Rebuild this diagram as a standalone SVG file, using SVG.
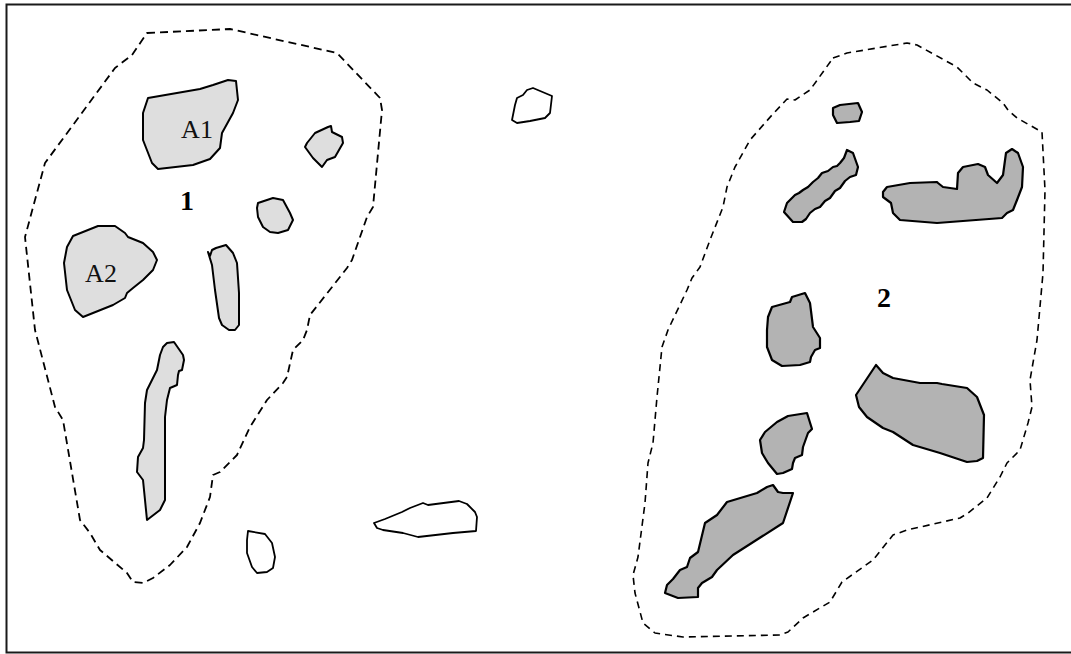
<svg xmlns="http://www.w3.org/2000/svg" width="1071" height="654" viewBox="0 0 1071 654">
<style>
.frame{fill:none;stroke:#1a1a1a;stroke-width:2}
.zone1{fill:none;stroke:#000;stroke-width:1.8;stroke-dasharray:8,5;stroke-linejoin:round}
.zone2{fill:none;stroke:#000;stroke-width:1.6;stroke-dasharray:7,5;stroke-linejoin:round}
.light{fill:#dedede;stroke:#000;stroke-width:2;stroke-linejoin:round}
.dark{fill:#b3b3b3;stroke:#000;stroke-width:2.2;stroke-linejoin:round}
.open{fill:#fff;stroke:#000;stroke-width:1.8;stroke-linejoin:round}
.lbl{font-family:"Liberation Serif","Times New Roman",serif;font-size:26px;fill:#111;text-anchor:middle}
.num{font-family:"Liberation Serif","Times New Roman",serif;font-size:28px;font-weight:bold;fill:#000;text-anchor:middle}
</style>
<rect x="0" y="0" width="1071" height="654" fill="#fff"/>
<rect class="frame" x="6.5" y="4.5" width="1070" height="648"/>
<g id="zone1">
<path class="zone1" d="M147,33 L230,29 L337,53 L380,98 L382,110 L373,207 L367,217 L352,260 L347,268 L310,315 L307,330 L303,340 L293,350 L287,377 L283,383 L267,400 L250,427 L237,455 L220,472 L213,475 L210,497 L200,523 L187,547 L170,565 L153,578 L143,583 L133,582 L127,573 L100,550 L90,533 L80,520 L63,420 L55,407 L35,330 L25,237 L45,163 L115,68 L132,55 Z"/>
<text class="num" x="187" y="210">1</text>
</g>
<g id="zone2">
<path class="zone2" d="M833,58 L847,53 L907,43 L917,45 L957,67 L973,83 L987,90 L1003,103 L1008,110 L1017,118 L1042,132 L1045,190 L1043,273 L1037,340 L1030,380 L1032,407 L1028,423 L1020,450 L1007,463 L1000,477 L987,498 L968,513 L960,518 L907,530 L893,535 L873,560 L842,582 L830,602 L803,618 L788,632 L780,635 L683,637 L655,633 L643,623 L635,593 L633,575 L638,557 L645,503 L648,463 L653,443 L657,397 L662,347 L668,330 L687,290 L692,278 L700,267 L710,240 L723,207 L727,187 L735,167 L750,140 L772,115 L787,99 L795,100 L810,90 L823,72 Z"/>
<text class="num" x="884" y="307">2</text>
</g>
<g id="A1">
<path class="light" d="M148,98 L200,89 L213,85 L228,80 L236,81 L238,100 L233,113 L222,133 L220,148 L210,159 L193,165 L158,169 L152,163 L143,140 L143,113 Z"/>
<text class="lbl" x="197" y="138">A1</text>
</g>
<g id="A2">
<path class="light" d="M73,236 L98,226 L115,226 L125,233 L128,237 L143,243 L153,252 L157,260 L153,270 L143,280 L133,288 L127,293 L125,298 L113,305 L83,317 L75,310 L67,290 L64,263 L67,247 Z"/>
<text class="lbl" x="101" y="282">A2</text>
</g>
<g id="s1">
<path class="light" d="M307,143 L315,133 L328,127 L331,126 L332,132 L342,137 L343,143 L335,157 L327,160 L322,167 L313,158 L305,147 Z"/>
</g>
<g id="s2">
<path class="light" d="M258,203 L267,200 L273,198 L283,200 L290,213 L293,220 L288,230 L278,233 L270,232 L263,227 L258,217 L257,208 Z"/>
</g>
<g id="s3">
<path class="light" d="M208,252 L210,256 L212,250 L216,248 L226,245 L233,253 L237,263 L239,293 L239,325 L235,330 L229,330 L222,325 L219,318 L215,290 L212,265 Z"/>
</g>
<g id="s4">
<path class="light" d="M167,343 L174,342 L183,355 L184,360 L182,370 L179,371 L178,375 L177,385 L170,388 L167,400 L165,417 L165,500 L160,510 L147,520 L145,500 L143,480 L137,472 L138,457 L143,448 L144,440 L145,403 L147,390 L157,370 L160,355 L163,347 Z"/>
</g>
<g id="w1">
<path class="open" d="M248,531 L265,534 L272,543 L275,557 L273,568 L267,572 L257,573 L252,567 L247,553 L247,540 Z"/>
</g>
<g id="w2">
<path class="open" d="M517,98 L523,95 L527,90 L533,88 L552,96 L550,113 L545,118 L530,121 L517,123 L512,120 L515,105 Z"/>
</g>
<g id="w3">
<path class="open" d="M374,523 L385,519 L402,512 L410,508 L423,503 L428,505 L459,501 L467,504 L475,512 L477,517 L476,531 L453,533 L418,537 L403,533 L383,530 L377,528 Z"/>
</g>
<g id="d1">
<path class="dark" d="M833,108 L840,105 L858,103 L862,112 L859,121 L850,122 L837,123 L833,115 Z"/>
</g>
<g id="d2">
<path class="dark" d="M847,150 L853,153 L858,167 L856,175 L850,177 L845,181 L840,188 L835,191 L830,198 L825,201 L820,207 L815,209 L810,213 L806,219 L802,222 L793,222 L784,212 L787,203 L792,198 L795,195 L799,193 L803,190 L808,187 L813,182 L818,178 L822,173 L828,171 L833,167 L837,166 L840,163 L844,158 Z"/>
</g>
<g id="d3">
<path class="dark" d="M887,187 L910,183 L937,182 L938,183 L943,187 L957,189 L958,173 L963,167 L978,164 L985,167 L988,175 L997,183 L1003,175 L1006,153 L1012,149 L1018,153 L1023,167 L1022,187 L1017,200 L1013,210 L1007,213 L1002,218 L937,223 L900,220 L893,213 L891,203 L883,197 L883,192 Z"/>
</g>
<g id="d4">
<path class="dark" d="M772,307 L790,302 L792,297 L805,293 L810,303 L813,327 L820,338 L820,348 L815,350 L811,357 L810,362 L800,365 L782,366 L772,360 L767,347 L767,330 L768,317 Z"/>
</g>
<g id="d5">
<path class="dark" d="M876,365 L883,373 L893,378 L920,383 L937,383 L942,384 L967,388 L977,397 L984,415 L983,458 L977,461 L967,462 L940,453 L913,445 L893,432 L883,428 L867,417 L859,407 L856,395 Z"/>
</g>
<g id="d6">
<path class="dark" d="M807,413 L812,429 L808,433 L803,447 L802,455 L795,458 L793,463 L792,469 L783,473 L777,474 L768,463 L762,453 L760,440 L765,432 L777,422 L788,416 Z"/>
</g>
<g id="d7">
<path class="dark" d="M773,485 L778,492 L783,493 L793,493 L783,523 L733,555 L717,570 L712,577 L702,583 L698,588 L698,597 L678,598 L665,593 L667,585 L673,579 L680,570 L687,567 L690,558 L698,552 L705,523 L717,515 L727,502 L747,496 L757,493 L767,487 Z"/>
</g>
</svg>
